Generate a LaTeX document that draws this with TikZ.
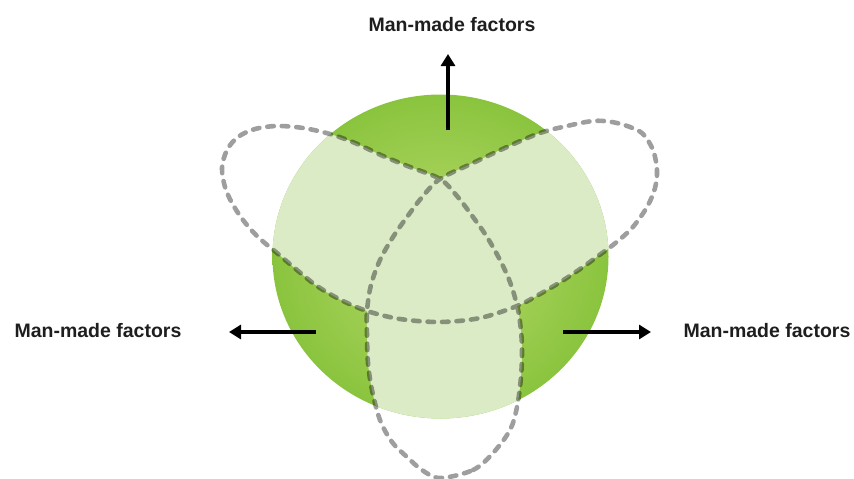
\documentclass[tikz,border=0pt]{standalone}
\usepackage{fontspec}
\setmainfont{Liberation Sans}
\usepackage{tikz}
\usetikzlibrary{arrows.meta, positioning}

\definecolor{leafdark}{RGB}{138,196,62}
\definecolor{leafmid}{RGB}{186,218,108}
\definecolor{leaflight}{RGB}{218,235,198}
\definecolor{labelink}{RGB}{30,30,30}

\begin{document}
\begin{tikzpicture}[
    x=1pt, y=-1pt,
    factor/.style={font=\bfseries\fontsize{19.5}{23}\selectfont, text=labelink, inner sep=0pt},
    knot/.style={draw=black, draw opacity=0.38, line width=4.6pt, line cap=round, dash pattern=on 6.5pt off 8pt},
    arrow/.style={-{Triangle[width=14pt,length=12pt]}, line width=3.5pt, black}
]
\useasboundingbox (0,0) rectangle (854,479);

% sphere
\coordinate (core) at (440.5,256.5);
\shade[inner color=leafmid, outer color=leafdark] (core) ellipse [x radius=168, y radius=162];

% trefoil outline
\def\trefoil{plot[smooth cycle, tension=0.55] coordinates {
  (440,478) (473,470) (493,453) (510,430) (517,407) (521,377) (522,347) (520,322)
  (517,305) (510,282) (500,260) (487,237) (473,217) (457,196) (440,179)
  (410,167) (383,156) (355,143) (330,134) (303,128) (277,126) (255,129) (238,137)
  (227,150) (222,168) (225,187) (232,203) (243,220) (258,237) (277,253) (297,270)
  (317,286) (341,300) (367,311) (400,319) (440,322) (480,318) (517,306) (540,294)
  (562,281) (583,267) (598,256) (613,245) (632,228) (647,207) (655,188) (657,170)
  (653,150) (643,134) (630,127) (612,122) (593,121) (567,126) (540,133) (507,147)
  (473,163) (440,179) (423,196) (407,217) (393,237) (380,260) (371,285) (367,311)
  (367,335) (368,363) (372,390) (380,420) (392,442) (407,457) (422,470)}}

\begin{scope}
  \clip (core) ellipse [x radius=168, y radius=162];
  \fill[leaflight, nonzero rule] \trefoil;
\end{scope}
\draw[knot] \trefoil;

% labels
\node[factor] (up) at (452,25) {Man-made factors};
\node[factor] (left) at (98,331) {Man-made factors};
\node[factor] (right) at (767,331) {Man-made factors};

\coordinate (upTail) at (448,130);
\coordinate (upTip) at (448,54);
\coordinate (leftTail) at (316,332);
\coordinate (leftTip) at (229,332);
\coordinate (rightTail) at (563,332);
\coordinate (rightTip) at (651,332);

\draw[arrow] (upTail) -- (upTip);
\draw[arrow] (leftTail) -- (leftTip);
\draw[arrow] (rightTail) -- (rightTip);

\end{tikzpicture}
\end{document}
